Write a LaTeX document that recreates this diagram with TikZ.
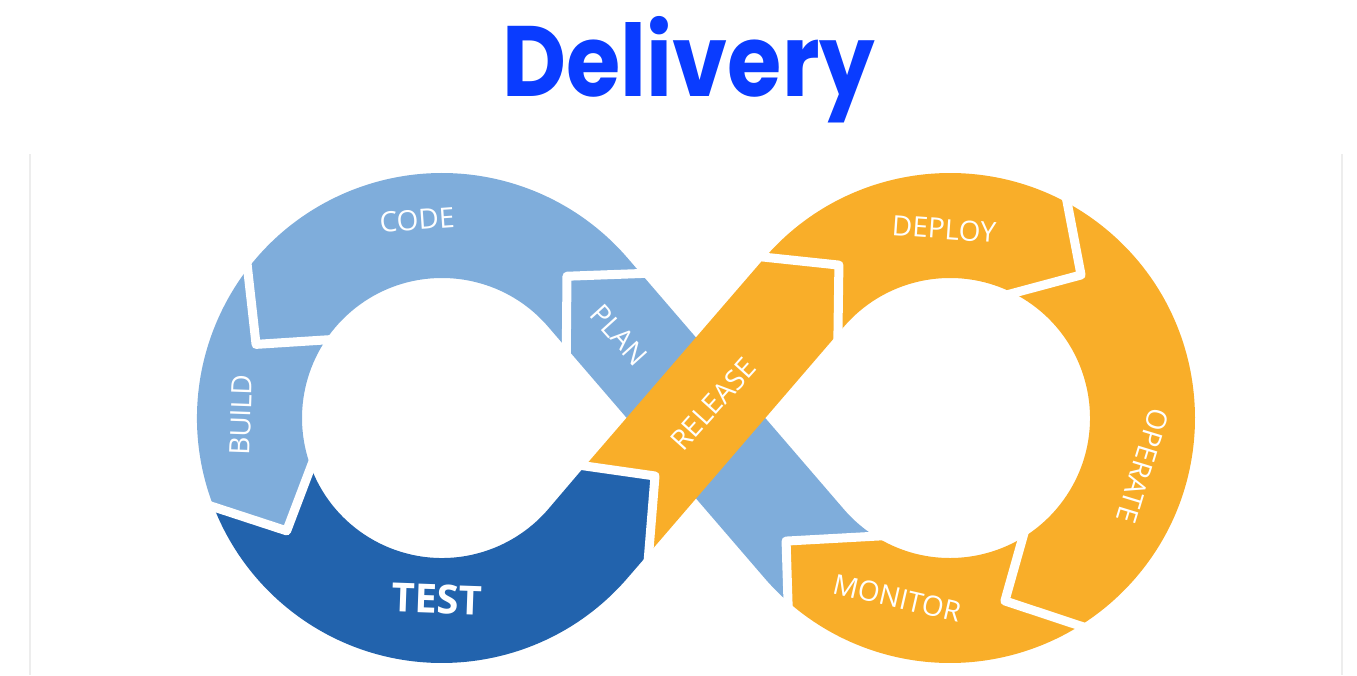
\documentclass[tikz,border=0pt]{standalone}
\usepackage{fontspec}
\setmainfont{Open Sans}
\newfontfamily\titlefont{Poppins}

\definecolor{planblue}{HTML}{7FADDB}
\definecolor{testblue}{HTML}{2263AD}
\definecolor{relorange}{HTML}{F9AE29}
\definecolor{titleblue}{HTML}{0A3CFF}

\tikzset{
  gap/.style={draw=white, line width=9pt, line join=round, line cap=round,
    shorten <=-8pt, shorten >=-8pt},
  lbl/.style={text=white, font=\fontsize{28}{30}\selectfont},
  frame/.style={draw=black!7, line width=1.5pt},
}

\begin{document}
\begin{tikzpicture}[x=1pt, y=1pt]

\useasboundingbox (0,0) rectangle (1357,675);

% Define coordinates
\path (442,257) coordinate (CL)
(950,257) coordinate (CR)
(CL) +(40.72:245) coordinate (lo-up)
(CL) +(40.72:140) coordinate (li-up)
(CL) +(-40.72:245) coordinate (lo-dn)
(CL) +(-40.72:140) coordinate (li-dn)
(CR) +(139.28:245) coordinate (ro-up)
(CR) +(139.28:140) coordinate (ri-up)
(CR) +(-139.28:245) coordinate (ro-dn)
(CR) +(-139.28:140) coordinate (ri-dn)
(CL) +(36:245.8) coordinate (b1o)
(CL) +(48.6:189) coordinate (b1t)
(CL) +(29.4:142.7) coordinate (b1i)
(CL) +(142.5:245) coordinate (b2o)
(CL) +(158.4:200) coordinate (b2t)
(CL) +(146.1:140) coordinate (b2i)
(CL) +(201.3:245) coordinate (b3o)
(CL) +(216:192) coordinate (b3t)
(CL) +(200.5:140) coordinate (b3i)
(585,209) coordinate (b4i)
(655,199) coordinate (b4t)
(648.7,121.5) coordinate (b4o)
(CR) +(139:245) coordinate (b5o)
(CR) +(126:189) coordinate (b5t)
(CR) +(143:140.3) coordinate (b5i)
(CR) +(61.4:245) coordinate (b6o)
(CR) +(47.5:194) coordinate (b6t)
(CR) +(63.1:140) coordinate (b6i)
(CR) +(-58:245) coordinate (b7o)
(CR) +(-73.3:191) coordinate (b7t)
(CR) +(-58.7:140) coordinate (b7i)
(CR) +(-131.4:245) coordinate (b8o)
(CR) +(-143.1:205) coordinate (b8t)
(CR) +(-122.4:140) coordinate (b8i)
;

% Bands
\fill[planblue] (b3o) arc[start angle=201.3, end angle=40.72, radius=245] -- (ri-dn)
  arc[start angle=-139.28, end angle=-122.4, radius=140] -- (b8t) -- (b8o)
  arc[start angle=-131.4, end angle=-139.28, radius=245] -- (li-up)
  arc[start angle=40.72, end angle=200.5, radius=140] -- (b3t) -- cycle;
\fill[testblue] (b3o) -- (b3t) -- (b3i)
  arc[start angle=200.5, end angle=319.28, radius=140] -- (b4i) -- (b4t) -- (b4o)
  -- (lo-dn) arc[start angle=-40.72, end angle=-158.7, radius=245] -- cycle;
\fill[relorange] (b4i) -- (ro-up)
  arc[start angle=139.28, end angle=-131.4, radius=245] -- (b8t) -- (b8i)
  arc[start angle=-122.4, end angle=139.28, radius=140] -- (b4o) -- (b4t) -- cycle;

% Gaps
\draw[gap] (b1i) -- (b1t) -- (b1o);
\draw[gap] (b2i) -- (b2t) -- (b2o);
\draw[gap] (b3i) -- (b3t) -- (b3o);
\draw[gap] (b4i) -- (b4t) -- (b4o);
\draw[gap] (b5i) -- (b5t) -- (b5o);
\draw[gap] (b6i) -- (b6t) -- (b6o);
\draw[gap] (b7i) -- (b7t) -- (b7o);
\draw[gap] (b8i) -- (b8t) -- (b8o);

% Labels
\path
(417,455) node[lbl, rotate=4] (code) {CODE}
(241,260) node[lbl, rotate=88] (build) {BUILD}
(437,76) node[lbl, rotate=-2, font=\bfseries\fontsize{40}{40}\selectfont] (test) {TEST}
(619,340) node[lbl, rotate=-48] (plan) {PLAN}
(713,271) node[lbl, rotate=48] (release) {RELEASE}
(944,446) node[lbl, rotate=-4] (deploy) {DEPLOY}
(1143,209) node[lbl, rotate=-107] (operate) {OPERATE}
(897,77) node[lbl, rotate=-13] (monitor) {MONITOR}
;

% Title
\node[anchor=base, xscale=0.88, transform shape, text=titleblue,
  font=\titlefont\bfseries\fontsize{100}{100}\selectfont]
  (title) at (689,578) {Delivery};

\draw[frame] (30,521) -- (30,0) (1342,521) -- (1342,0);

\end{tikzpicture}
\end{document}
